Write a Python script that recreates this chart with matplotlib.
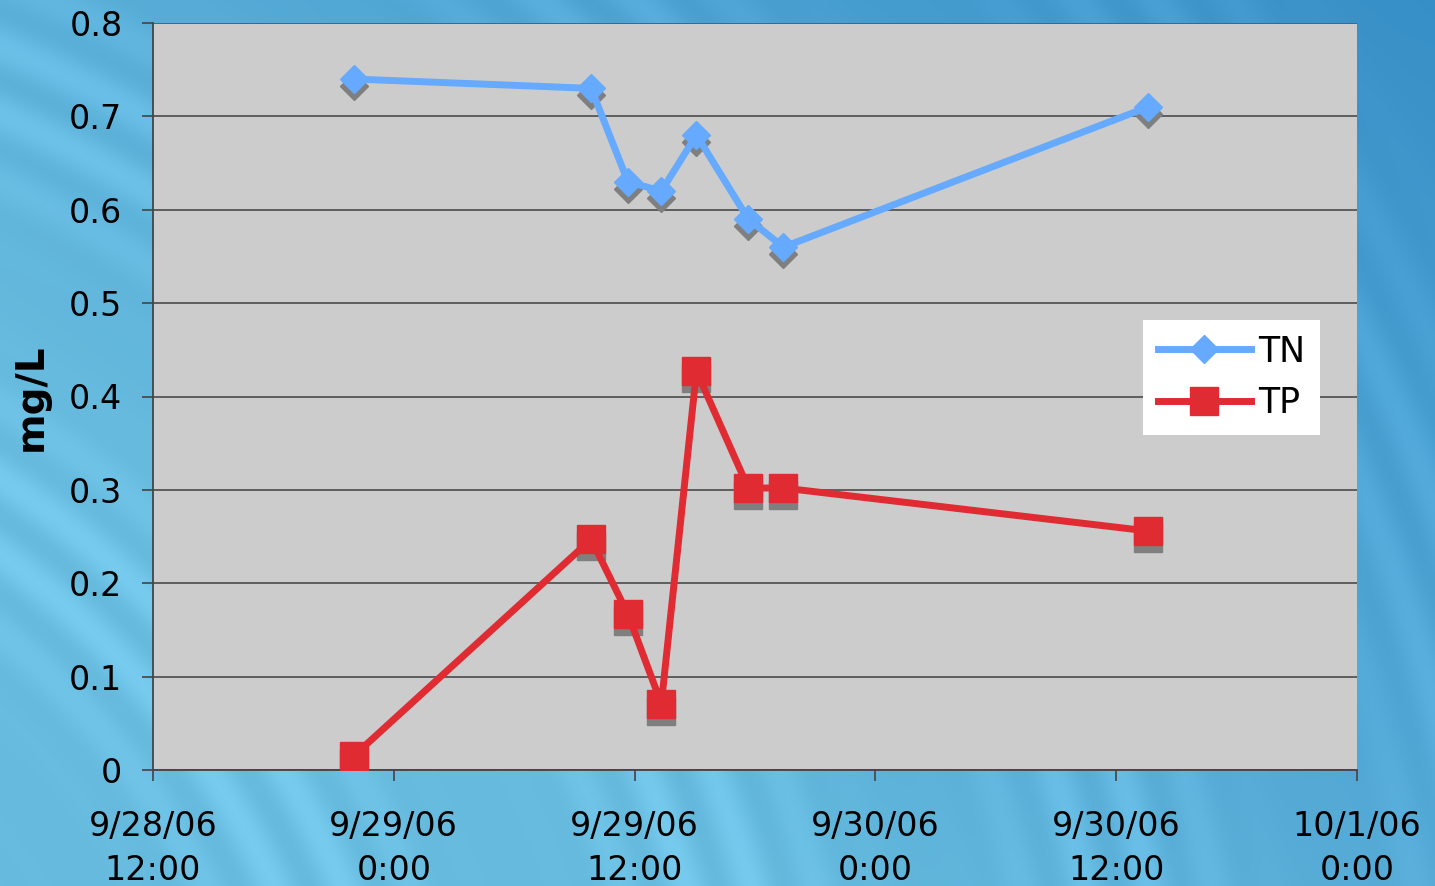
import numpy as np
import matplotlib
matplotlib.use("Agg")
import matplotlib.pyplot as plt
import matplotlib.dates as mdates
import matplotlib.transforms as mtransforms
from matplotlib.ticker import FuncFormatter, MultipleLocator
from datetime import datetime

# sample times and concentrations
times = [datetime(2006, 9, 28, 22, 0), datetime(2006, 9, 29, 9, 50),
         datetime(2006, 9, 29, 11, 40), datetime(2006, 9, 29, 13, 20),
         datetime(2006, 9, 29, 15, 5), datetime(2006, 9, 29, 17, 40),
         datetime(2006, 9, 29, 19, 25), datetime(2006, 9, 30, 13, 35)]
tn = [0.74, 0.73, 0.63, 0.62, 0.68, 0.59, 0.56, 0.71]
tp = [0.015, 0.247, 0.167, 0.071, 0.427, 0.302, 0.302, 0.256]

W, H = 1435, 886
fig = plt.figure(figsize=(W / 100, H / 100), dpi=100)

# blue swirly background
bg = fig.add_axes([0, 0, 1, 1], zorder=-10)
yy, xx = np.mgrid[0:1:400j, 0:1:640j]
base = np.array([0.40, 0.73, 0.87])
dark = np.array([0.17, 0.52, 0.76])
t = np.clip(0.6 * xx + 0.5 * (1 - yy) - 0.3, 0, 1)[..., None]
img = base * (1 - t) + dark * t
r = np.hypot(xx + 0.35, (1 - yy) * 0.62 + 0.25)
streak = (0.5 + 0.5 * np.sin(r * 140)) * (0.5 + 0.5 * np.sin(r * 23))
img = img + 0.07 * streak[..., None] * (1 - 0.6 * t)
bg.imshow(np.clip(img, 0, 1), aspect="auto", extent=[0, 1, 0, 1], origin="upper")
bg.set_axis_off()

ax = fig.add_axes([153 / W, 1 - 770 / H, (1357 - 153) / W, (770 - 23) / H])
ax.set_facecolor("#cccccc")

shadow = mtransforms.offset_copy(ax.transData, fig=fig, x=0, y=-5, units="points")
ax.plot(times, tn, ls="none", marker="D", ms=14, color="#7f7f7f", transform=shadow, zorder=2)
ax.plot(times, tp, ls="none", marker="s", ms=20, color="#7f7f7f", transform=shadow, zorder=2)
ax.plot(times, tn, color="#66aaff", lw=5, marker="D", ms=14, label="TN", zorder=3)
ax.plot(times, tp, color="#e02b32", lw=5, marker="s", ms=20, label="TP", zorder=3)

ax.set_xlim(datetime(2006, 9, 28, 12, 0), datetime(2006, 10, 1, 0, 0))
ax.set_ylim(0, 0.8)
ax.yaxis.set_major_locator(MultipleLocator(0.1))
ax.yaxis.set_major_formatter(FuncFormatter(lambda v, p: "0" if abs(v) < 1e-9 else f"{v:.1f}"))
ax.xaxis.set_major_locator(mdates.HourLocator(byhour=[0, 12]))
ax.xaxis.set_major_formatter(FuncFormatter(
    lambda v, p: (lambda d: f"{d.month}/{d.day}/{d.strftime('%y')}\n{d.hour}:{d.strftime('%M')}")(mdates.num2date(v))))
ax.grid(axis="y", color="#555555", lw=1.3)
ax.set_axisbelow(True)

for s in ["top", "right"]:
    ax.spines[s].set_visible(False)
for s in ["left", "bottom"]:
    ax.spines[s].set_color("#444444")
    ax.spines[s].set_linewidth(1.3)
ax.tick_params(axis="both", direction="out", length=8, width=1.2, color="#444444", labelsize=24)
ax.tick_params(axis="y", pad=14)
ax.tick_params(axis="x", pad=21)
for lab in ax.get_xticklabels():
    lab.set_linespacing(1.4)

ax.set_ylabel("mg/L", fontsize=28, fontweight="bold")
ax.yaxis.set_label_coords(50 / W, 1 - 397 / H, transform=fig.transFigure)

leg = ax.legend(loc="upper left", bbox_to_anchor=(1143 / W, 1 - 320 / H), bbox_transform=fig.transFigure,
                borderaxespad=0, fontsize=25, frameon=True, fancybox=False, edgecolor="none",
                facecolor="white", framealpha=1, handlelength=2.7, handletextpad=0.2,
                borderpad=0.42, labelspacing=0.5)

fig.savefig("out.png", dpi=100)
